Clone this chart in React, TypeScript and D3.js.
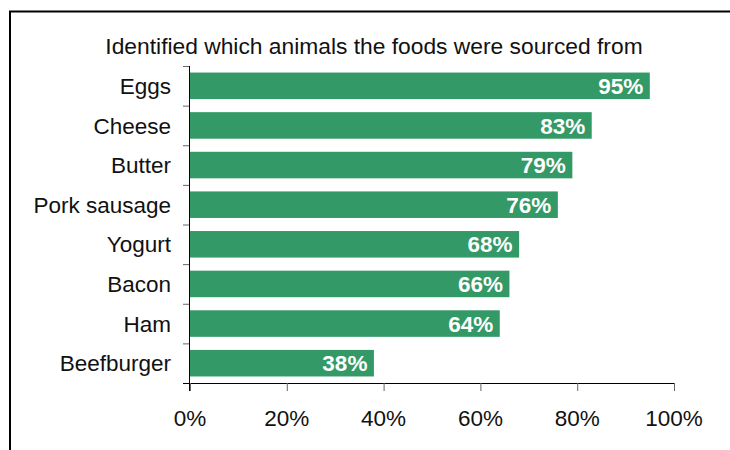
import React from "react";
import * as d3 from "d3";

const categories = ["Eggs", "Cheese", "Butter", "Pork sausage", "Yogurt", "Bacon", "Ham", "Beefburger"];
const values = [95, 83, 79, 76, 68, 66, 64, 38];
const xTicks = [0, 20, 40, 60, 80, 100];
const title = "Identified which animals the foods were sourced from";

const W = 730;
const H = 450;
const FONT = "'Liberation Sans', Arial, Helvetica, sans-serif";

export default function App() {
  const x = d3.scaleLinear().domain([0, 100]).range([190, 674]);
  const yEdge = d3.scaleBand<string>().domain(categories).range([66, 383]).paddingInner(0).paddingOuter(0);
  const y = d3.scaleBand<string>().domain(categories).range([66, 383]).paddingInner(0.33).paddingOuter(0.165);
  const axisY = 383;

  return (
    <svg width={W} height={H} style={{ position: "absolute", left: 0, top: 0, background: "#fff" }} fontFamily={FONT}>
      <rect x={10} y={11.5} width={W + 50} height={H + 50} fill="none" stroke="#000" strokeWidth={2} />
      <text x={374} y={54} textAnchor="middle" fontSize={22.8} fill="#111">{title}</text>

      {categories.map((c, i) => (
        <g key={c}>
          <rect x={x(0)} y={y(c)} width={x(values[i]) - x(0)} height={y.bandwidth()} fill="#339966" />
          <text x={x(values[i]) - 6.5} y={(y(c) as number) + y.bandwidth() / 2} dy="0.36em" textAnchor="end"
            fontSize={22.5} fontWeight="bold" fill="#fff">{values[i]}%</text>
          <text x={171} y={(yEdge(c) as number) + yEdge.bandwidth() / 2} dy="0.36em" textAnchor="end"
            fontSize={22.5} fill="#111">{c}</text>
        </g>
      ))}

      {[...categories.map((c) => yEdge(c) as number), axisY].map((v, i) => (
        <line key={"yt" + i} x1={183} x2={190} y1={v + 0.5} y2={v + 0.5} stroke="#666" strokeWidth={1} />
      ))}
      <line x1={189.5} x2={189.5} y1={66} y2={391} stroke="#000" strokeWidth={1} />
      <line x1={183} x2={x(100)} y1={axisY + 0.5} y2={axisY + 0.5} stroke="#000" strokeWidth={1} />

      {xTicks.map((t) => (
        <g key={t}>
          <line x1={x(t) + 0.5} x2={x(t) + 0.5} y1={axisY} y2={391} stroke="#666" strokeWidth={1} />
          <text x={x(t)} y={426} textAnchor="middle" fontSize={22.5} fill="#111">{t}%</text>
        </g>
      ))}
    </svg>
  );
}
